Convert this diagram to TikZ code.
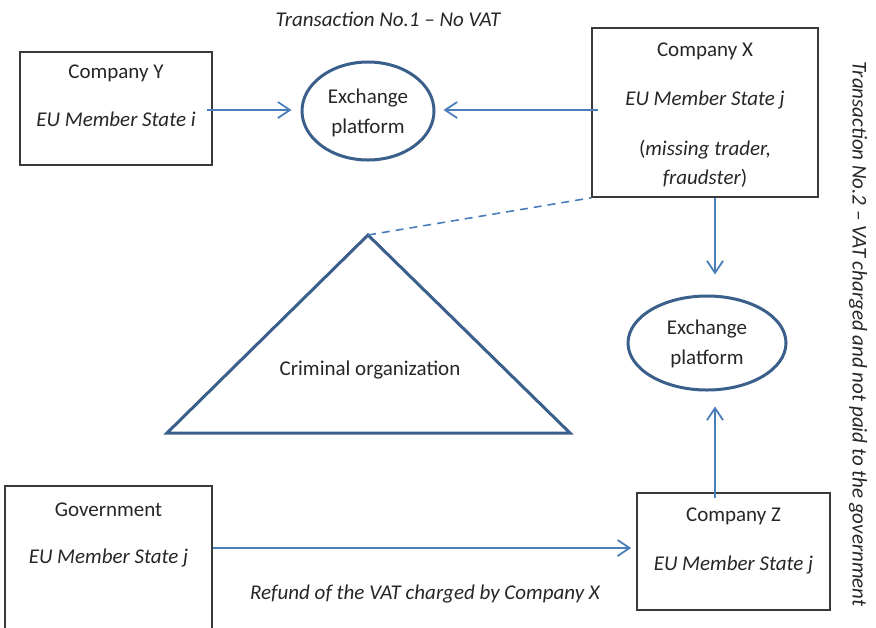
\documentclass[tikz,border=0pt]{standalone}
\usepackage{fontspec}
\setmainfont{Carlito}
\usetikzlibrary{shapes.geometric,arrows.meta}
\definecolor{arrowblue}{HTML}{4A7EBB}
\definecolor{shapeblue}{HTML}{3A5F8B}
\definecolor{inktext}{HTML}{262626}
\definecolor{boxline}{HTML}{3A3A3A}
\begin{document}
\begin{tikzpicture}[x=0.5pt,y=-0.5pt,
  font=\fontsize{10.5}{13}\selectfont, text=inktext,
  entity/.style={draw=boxline, line width=0.8pt, rectangle, inner sep=0pt},
  platform/.style={draw=shapeblue, line width=1.5pt, ellipse, inner sep=0pt},
  arr/.style={draw=arrowblue, line width=0.9pt, -{Straight Barb[length=6pt,width=8pt,line width=0.9pt]}},
  lbl/.style={inner sep=0pt, anchor=center, yshift=-0.75pt}]
\clip (0,0) rectangle (876,627);

% companies and government
\node[entity, minimum width=96pt, minimum height=56.5pt] (cy) at (116,108.5) {};
\node[entity, minimum width=113pt, minimum height=84.5pt] (cx) at (705,112.5) {};
\node[entity, minimum width=96.5pt, minimum height=58.5pt] (cz) at (733.5,551.5) {};
\node[entity, minimum width=103.5pt, minimum height=77pt] (gov) at (108.5,563) {};

% exchange platforms
\node[platform, minimum width=66pt, minimum height=49pt] (ep1) at (368,111) {};
\node[platform, minimum width=79pt, minimum height=47pt] (ep2) at (707,343) {};

% criminal organization
\coordinate (apex) at (368,235);
\coordinate (bl) at (167,433);
\coordinate (br) at (570,433);
\draw[shapeblue, line width=1.5pt, line join=miter] (apex) -- (bl) -- (br) -- cycle;
\node[lbl] (crim) at (370,369) {Criminal organization};

% box texts
\node[lbl] (cyt1) at (116,72) {Company Y};
\node[lbl] (cyt2) at (116,118) {\itshape EU Member State i};
\node[lbl] (cxt1) at (705,50) {Company X};
\node[lbl] (cxt2) at (705,99) {\itshape EU Member State j};
\node[lbl] (cxt3) at (705,148) {(\textit{missing trader,}};
\node[lbl] (cxt4) at (705,177) {\textit{fraudster})};
\node[lbl] (czt1) at (733.5,515) {Company Z};
\node[lbl] (czt2) at (733.5,563) {\itshape EU Member State j};
\node[lbl] (govt1) at (108.5,508) {Government};
\node[lbl] (govt2) at (108.5,556) {\itshape EU Member State j};
\node[lbl] (ep1a) at (368,97) {Exchange};
\node[lbl] (ep1b) at (368,126) {platform};
\node[lbl] (ep2a) at (707,328) {Exchange};
\node[lbl] (ep2b) at (707,357) {platform};

% captions
\node[lbl] (t1) at (388,18) {\itshape Transaction No.1 – No VAT};
\node[lbl] (refund) at (425,592) {\itshape Refund of the VAT charged by Company X};
\node[inner sep=0pt, rotate=-90] (t2) at (858,334) {\itshape Transaction No.2 – VAT charged and not paid to the government};

% connectors
\draw[arr, shorten <=-3pt, shorten >=4.5pt] ([yshift=-0.75pt]cy.east) -- ([yshift=-0.75pt]cy.east -| ep1.west);
\draw[arr, shorten <=-3.5pt, shorten >=4pt] ([yshift=1.25pt]cx.west) -- ([yshift=1.25pt]cx.west -| ep1.east);
\draw[arr, shorten >=10pt] ([xshift=5pt]cx.south) -- ([xshift=5pt]cx.south |- ep2.north);
\draw[arr, shorten <=-3pt, shorten >=7.5pt] ([xshift=-9.25pt]cz.north) -- ([xshift=-9.25pt]cz.north |- ep2.south);
\draw[arr, shorten >=2.5pt] ([yshift=7.5pt]gov.east) -- ([yshift=7.5pt]gov.east -| cz.west);
\draw[arrowblue, line width=0.8pt, dashed, dash pattern=on 4pt off 3pt] (apex) -- (cx.south west);
\end{tikzpicture}
\end{document}
